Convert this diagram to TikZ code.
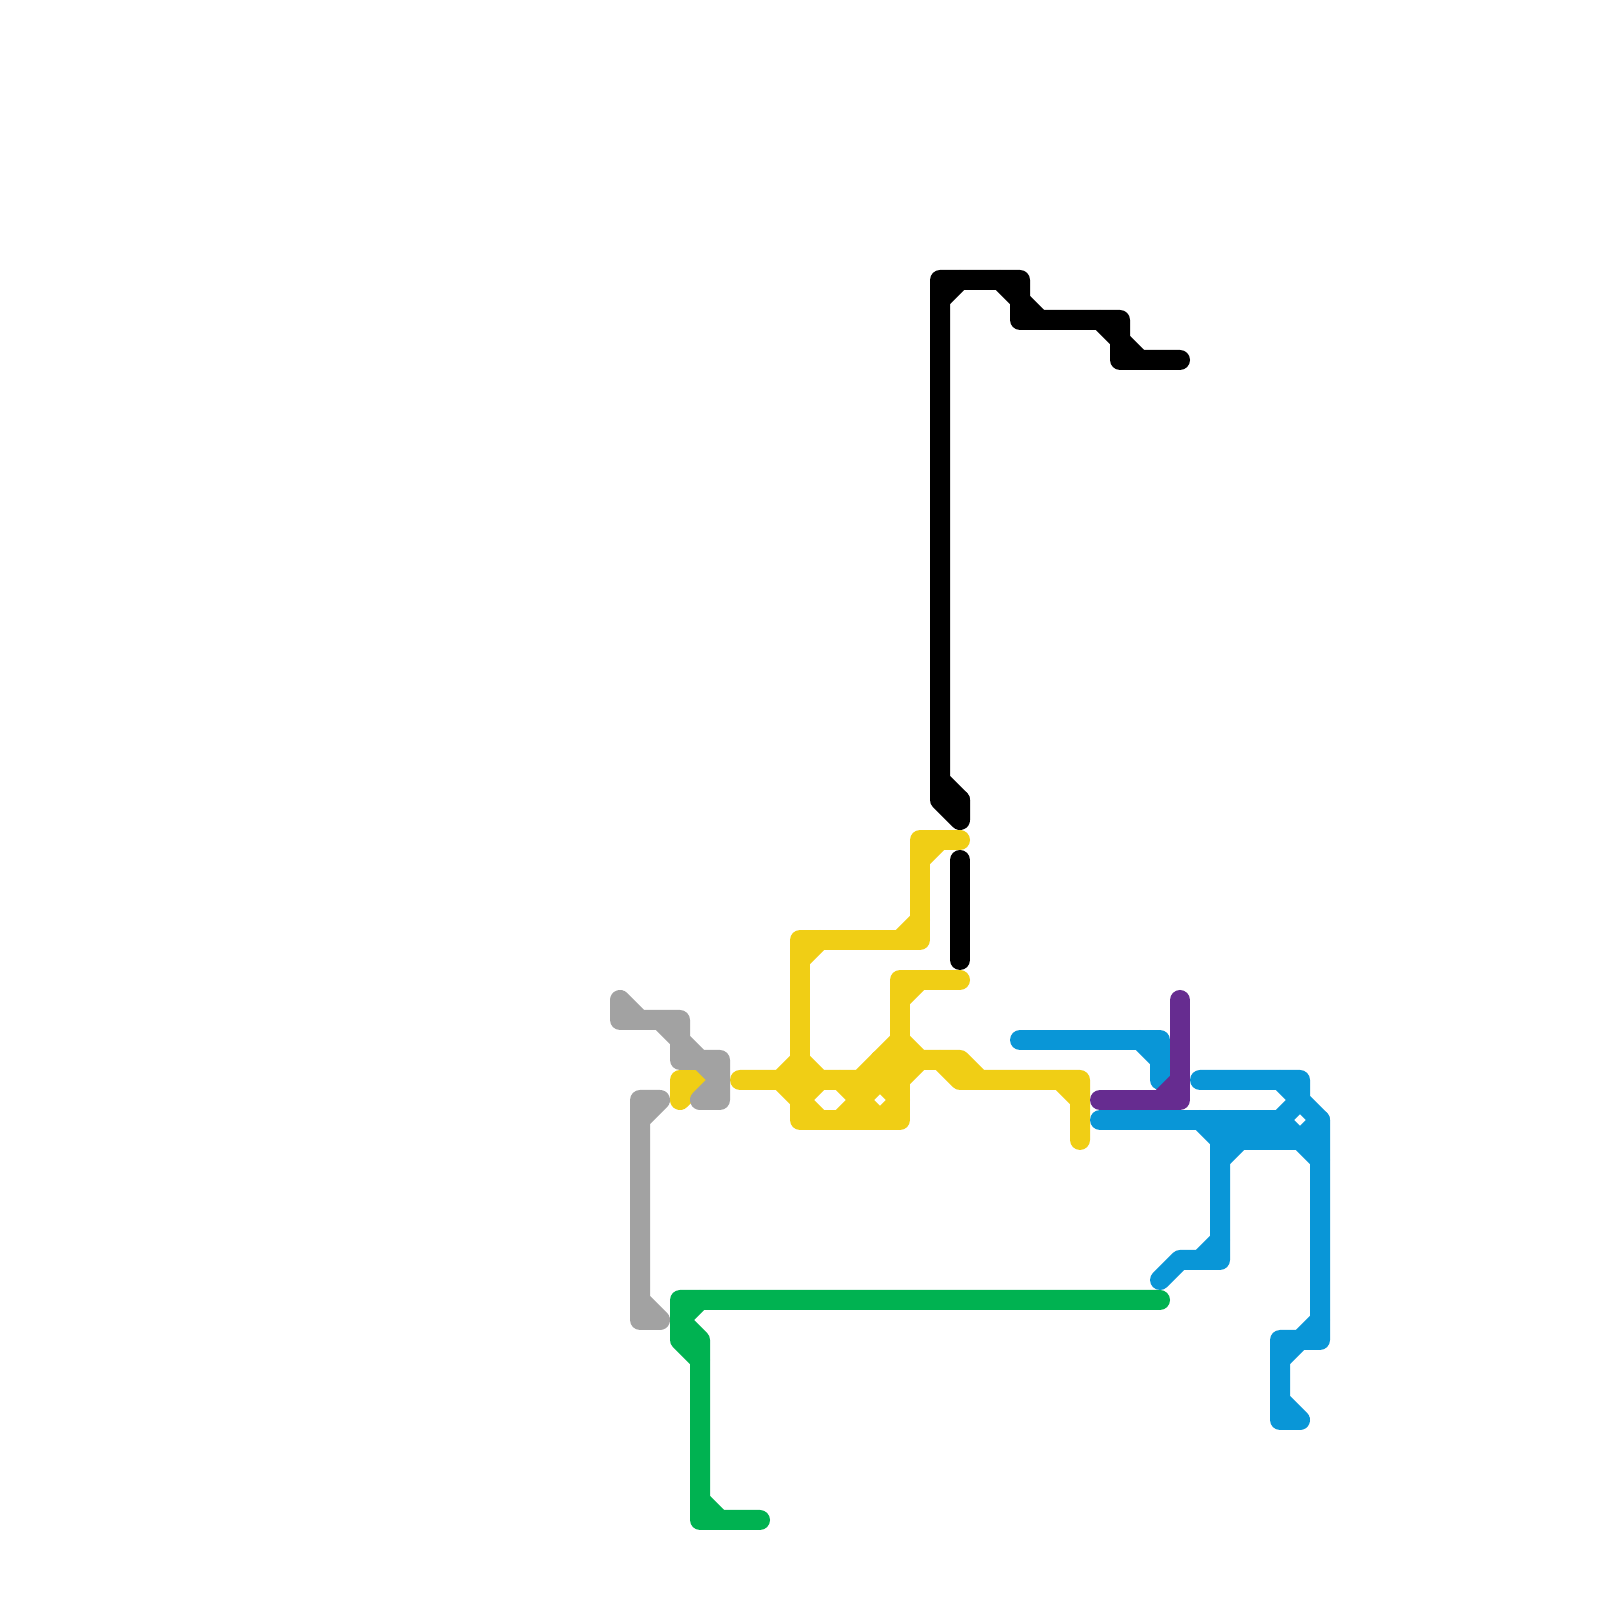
\documentclass[tikz,border=0pt]{standalone}
\begin{document}
\begin{tikzpicture}[metroline/.style={line width=0.2cm, line cap=round, line join=round}]
    \definecolor{lineblack}{RGB}{0,0,0}
    \definecolor{lineyellow}{RGB}{240,206,21}
    \definecolor{linegray}{RGB}{162,162,162}
    \definecolor{linegreen}{RGB}{0,178,81}
    \definecolor{lineblue}{RGB}{9,150,215}
    \definecolor{linepurple}{RGB}{102,44,144}

    \useasboundingbox (0,0) rectangle (16,16);

    % Ligne noire, avec ses deux tronçons.
    \draw[metroline, lineblack]
        (9.60,8.00) -- (9.40,8.20) -- (9.40,13.20) -- (10.20,13.20)
        -- (10.20,12.80) -- (11.20,12.80) -- (11.20,12.40) -- (11.80,12.40);
    \draw[metroline, lineblack] (9.40,13.00) -- (9.60,13.20);
    \draw[metroline, lineblack] (10.00,13.20) -- (10.20,13.00) -- (10.40,12.80);
    \draw[metroline, lineblack] (11.00,12.80) -- (11.20,12.60) -- (11.40,12.40);
    \draw[metroline, lineblack] (9.40,8.20) -- (9.40,8.00) -- (9.60,7.80) -- (9.60,8.00);
    \draw[metroline, lineblack] (9.60,7.40) -- (9.60,6.40);

    % Ligne jaune, partie haute.
    \draw[metroline, lineyellow]
        (9.60,7.60) -- (9.20,7.60) -- (9.20,6.60) -- (8.00,6.60) -- (8.00,4.80)
        -- (9.00,4.80) -- (9.00,6.20) -- (9.60,6.20);
    \draw[metroline, lineyellow] (9.20,7.40) -- (9.40,7.60);
    \draw[metroline, lineyellow] (9.20,6.80) -- (9.00,6.60);
    \draw[metroline, lineyellow] (8.00,6.40) -- (8.20,6.60);
    \draw[metroline, lineyellow] (9.00,6.00) -- (9.20,6.20);

    % Ligne jaune, partie basse.
    \draw[metroline, lineyellow]
        (7.40,5.20) -- (7.80,5.20) -- (8.00,5.40) -- (8.20,5.20) -- (8.60,5.20)
        -- (9.00,5.60) -- (9.20,5.40) -- (9.60,5.40) -- (9.80,5.20)
        -- (10.80,5.20) -- (10.80,4.60);
    \draw[metroline, lineyellow] (9.40,5.40) -- (9.60,5.20) -- (9.80,5.20);
    \draw[metroline, lineyellow] (10.60,5.20) -- (10.80,5.00);
    \draw[metroline, lineyellow] (7.80,5.20) -- (8.00,5.00) -- (8.20,4.80);
    \draw[metroline, lineyellow] (8.00,5.00) -- (8.20,5.20);
    \draw[metroline, lineyellow] (8.40,5.20) -- (8.60,5.00) -- (8.40,4.80);
    \draw[metroline, lineyellow] (8.60,5.00) -- (8.80,5.20) -- (9.00,5.00) -- (8.80,4.80);
    \draw[metroline, lineyellow] (8.60,5.00) -- (8.80,4.80);
    \draw[metroline, lineyellow] (8.80,5.20) -- (9.00,5.20) -- (9.20,5.40);
    \draw[metroline, lineyellow] (8.80,5.40) -- (9.00,5.40);
    \draw[metroline, lineyellow] (8.80,5.40) -- (8.80,5.20);
    \draw[metroline, lineyellow] (6.80,5.00) -- (6.80,5.20) -- (7.00,5.20) -- cycle;

    % Ligne grise.
    \draw[metroline, linegray]
        (6.40,5.80) -- (6.20,6.00) -- (6.20,5.80) -- (6.80,5.80) -- (6.80,5.40)
        -- (7.20,5.40) -- (7.20,5.00) -- (7.00,5.00) -- (7.20,5.20) -- (7.00,5.40)
        -- (6.80,5.60) -- (6.60,5.80);
    \draw[metroline, linegray]
        (6.40,4.80) -- (6.60,5.00) -- (6.40,5.00) -- (6.40,2.80) -- (6.60,2.80) -- (6.40,3.00);

    % Ligne verte.
    \draw[metroline, linegreen]
        (11.60,3.00) -- (6.80,3.00) -- (6.80,2.60) -- (7.00,2.40) -- (7.00,0.80) -- (7.60,0.80);
    \draw[metroline, linegreen] (7.00,1.00) -- (7.20,0.80);
    \draw[metroline, linegreen] (7.00,3.00) -- (6.80,2.80) -- (7.00,2.60) -- (7.00,2.40);

    % Ligne bleue.
    \draw[metroline, lineblue] (10.20,5.60) -- (11.60,5.60) -- (11.60,5.20);
    \draw[metroline, lineblue] (11.40,5.60) -- (11.60,5.40);
    \draw[metroline, lineblue]
        (12.00,5.20) -- (13.00,5.20) -- (13.00,5.00) -- (13.20,4.80) -- (13.20,2.60)
        -- (12.80,2.60) -- (12.80,1.80) -- (13.00,1.80) -- (12.80,2.00);
    \draw[metroline, lineblue] (12.80,5.20) -- (13.00,5.00) -- (12.80,4.80) -- (13.00,4.60) -- (13.20,4.80);
    \draw[metroline, lineblue] (13.20,2.80) -- (13.00,2.60) -- (12.80,2.40);
    \draw[metroline, lineblue]
        (11.00,4.80) -- (12.80,4.80);
    \draw[metroline, lineblue]
        (12.00,4.80) -- (12.20,4.60) -- (13.00,4.60) -- (13.20,4.40);
    \draw[metroline, lineblue]
        (12.40,4.60) -- (12.20,4.40);
    \draw[metroline, lineblue]
        (12.20,4.80) -- (12.20,3.40) -- (11.80,3.40) -- (11.60,3.20);
    \draw[metroline, lineblue] (12.20,3.60) -- (12.00,3.40);

    % Ligne violette.
    \draw[metroline, linepurple]
        (11.80,6.00) -- (11.80,5.00) -- (11.00,5.00);
    \draw[metroline, linepurple] (11.80,5.20) -- (11.60,5.00);
\end{tikzpicture}
\end{document}
